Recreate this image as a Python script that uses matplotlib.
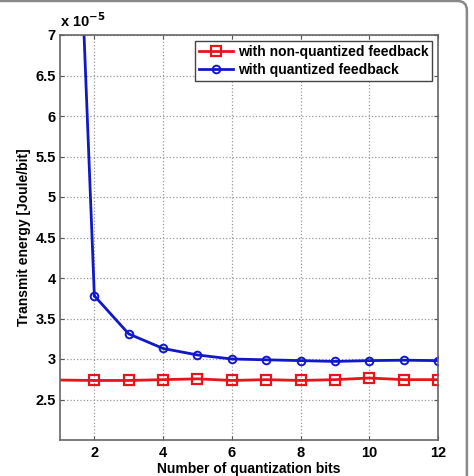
import numpy as np
import matplotlib
matplotlib.use("Agg")
import matplotlib.pyplot as plt
from matplotlib.patches import FancyBboxPatch

plt.rcParams['font.family'] = ['Liberation Sans', 'DejaVu Sans']
plt.rcParams['font.weight'] = 'bold'

bits = [1, 2, 3, 4, 5, 6, 7, 8, 9, 10, 11, 12]
# transmit energy, units of 1e-5 Joule/bit
non_quantized = [2.74, 2.735, 2.735, 2.745, 2.755, 2.735, 2.745, 2.735, 2.745, 2.765, 2.745, 2.745]
quantized = [14.5, 3.78, 3.31, 3.13, 3.05, 3.0, 2.99, 2.98, 2.97, 2.98, 2.985, 2.98]

fig = plt.figure(figsize=(4.74, 4.76), dpi=100)
ax = fig.add_axes([60 / 474, 1 - 440 / 476, 378 / 474, 405 / 476])

ax.plot(bits[1:], non_quantized[1:], color='#e8141c', lw=2.0, marker='s', ms=7,
        mfc='none', mew=1.6, label='with non-quantized feedback')
ax.plot(bits[:2], non_quantized[:2], color='#e8141c', lw=2.0)
ax.plot(bits[1:], quantized[1:], color='#1018c8', lw=2.0, marker='o', ms=5.5,
        mfc='none', mew=1.4, label='with quantized feedback')
ax.plot(bits[:2], quantized[:2], color='#1018c8', lw=2.0)

ax.set_xlim(1, 12)
ax.set_ylim(2, 7)
ax.set_xticks([2, 4, 6, 8, 10, 12])
ax.set_yticks([2.5, 3, 3.5, 4, 4.5, 5, 5.5, 6, 6.5, 7])
ax.set_yticklabels(['2.5', '3', '3.5', '4', '4.5', '5', '5.5', '6', '6.5', '7'])
ax.tick_params(direction='in', length=3, labelsize=10.5, colors='#555555',
               labelcolor='black', top=True, right=True)
ax.tick_params(axis='y', pad=3)
ax.tick_params(axis='x', pad=4)
for lab in ax.get_xticklabels() + ax.get_yticklabels():
    lab.set_fontweight('bold')
ax.grid(True, linestyle=':', color='#999999', lw=0.9)
for s in ax.spines.values():
    s.set_color('#666666')
    s.set_linewidth(1.2)

ax.set_xlabel('Number of quantization bits', fontsize=10, fontweight='bold', labelpad=2)
ax.set_ylabel('Transmit energy [Joule/bit]', fontsize=10, fontweight='bold', labelpad=3)
ax.text(0.0, 1.012, r'x 10$^{\mathbf{-5}}$', transform=ax.transAxes, fontsize=10.5,
        fontweight='bold', ha='left', va='bottom')

leg = ax.legend(loc='upper right', prop={'weight': 'bold', 'size': 10},
                fancybox=False, framealpha=1, edgecolor='#444444',
                borderpad=0.3, labelspacing=0.3, handlelength=2.5,
                handletextpad=0.3, borderaxespad=0.4)
leg.get_frame().set_linewidth(1.0)

frame = FancyBboxPatch((-0.02, -0.05), 1.005, 1.048, transform=fig.transFigure,
                       boxstyle='round,pad=0,rounding_size=0.02', fill=False,
                       edgecolor='#888888', lw=1.8, clip_on=False)
fig.patches.append(frame)

fig.savefig('out.png', dpi=100)
